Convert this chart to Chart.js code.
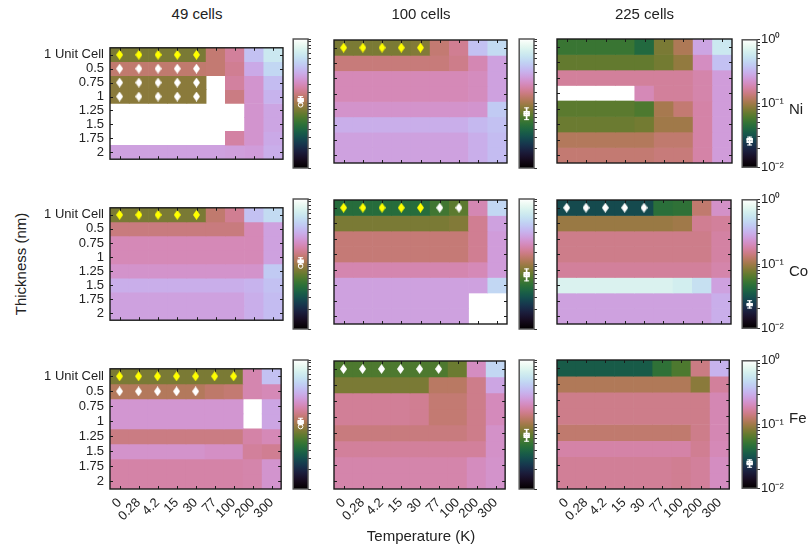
<!DOCTYPE html>
<html><head><meta charset="utf-8">
<script src="https://cdn.jsdelivr.net/npm/chart.js@4.4.0/dist/chart.umd.min.js"></script>
<style>
html,body{margin:0;padding:0;background:#fff;}
#wrap{position:relative;width:809px;height:552px;overflow:hidden;font-family:"Liberation Sans",Arial,Helvetica,sans-serif;color:#222;}
#wrap canvas{position:absolute;}
.lbl{position:absolute;font-size:15px;white-space:nowrap;line-height:15px;}
</style></head><body><div id="wrap"></div>
<script>
// ---------- data ----------
const temperatures = ['0','0.28','4.2','15','30','77','100','200','300'];
const thicknesses = ['1 Unit Cell','0.5','0.75','1','1.25','1.5','1.75','2'];
const metals = ['Ni','Co','Fe'];
const cellCounts = ['49 cells','100 cells','225 cells'];
const colorbarTickValues = [1, 0.1, 0.01];
const colorbarTickLabels = ['10\u2070','10\u207B\u00B9','10\u207B\u00B2'];
const N = null;

const ni49 = [
 [0.0794,0.0794,0.0794,0.0794,0.0794,0.132,0.166,0.363,0.575],
 [0.129,0.129,0.129,0.129,0.129,0.132,0.158,0.288,0.457],
 [0.0871,0.0871,0.0871,0.0871,0.0871,N,0.170,0.229,0.347],
 [0.0871,0.0871,0.0871,0.0871,0.0871,N,0.145,0.229,0.316],
 [N,N,N,N,N,N,N,0.229,0.275],
 [N,N,N,N,N,N,N,0.229,0.275],
 [N,N,N,N,N,N,0.174,0.229,0.288],
 [0.263,0.263,0.263,0.263,0.263,0.263,0.257,0.251,0.302]
];
const ni100 = [
 [0.0794,0.0794,0.0794,0.0794,0.0832,0.132,0.158,0.363,0.479],
 [0.138,0.138,0.138,0.138,0.138,0.138,0.151,0.191,0.263],
 [0.195,0.195,0.195,0.195,0.195,0.195,0.195,0.204,0.263],
 [0.195,0.195,0.195,0.195,0.195,0.195,0.195,0.204,0.263],
 [0.224,0.224,0.224,0.224,0.224,0.224,0.224,0.229,0.398],
 [0.302,0.302,0.302,0.302,0.302,0.302,0.302,0.331,0.363],
 [0.263,0.263,0.263,0.263,0.263,0.263,0.263,0.302,0.347],
 [0.263,0.263,0.263,0.263,0.263,0.263,0.263,0.302,0.347]
];
const ni225 = [
 [0.0525,0.0525,0.0525,0.0525,0.0417,0.0794,0.110,0.275,0.575],
 [0.0692,0.0692,0.0692,0.0692,0.0692,0.0759,0.0912,0.209,0.363],
 [0.166,0.166,0.166,0.166,0.166,0.166,0.166,0.182,0.251],
 [N,N,N,N,0.195,0.166,0.166,0.182,0.251],
 [0.0661,0.0661,0.0661,0.0661,0.0603,0.105,0.132,0.178,0.251],
 [0.0724,0.0724,0.0724,0.0724,0.0759,0.100,0.100,0.178,0.251],
 [0.115,0.115,0.115,0.115,0.115,0.129,0.129,0.178,0.251],
 [0.132,0.132,0.132,0.132,0.132,0.138,0.138,0.178,0.251]
];
const co49 = [
 [0.0794,0.0794,0.0794,0.0794,0.0794,0.129,0.158,0.363,0.479],
 [0.141,0.141,0.141,0.141,0.141,0.141,0.141,0.195,0.263],
 [0.195,0.195,0.195,0.195,0.195,0.195,0.195,0.195,0.263],
 [0.195,0.195,0.195,0.195,0.195,0.195,0.195,0.195,0.263],
 [0.224,0.224,0.224,0.224,0.224,0.224,0.224,0.224,0.398],
 [0.302,0.302,0.302,0.302,0.302,0.302,0.302,0.316,0.363],
 [0.263,0.263,0.263,0.263,0.263,0.263,0.263,0.302,0.347],
 [0.263,0.263,0.263,0.263,0.263,0.263,0.263,0.302,0.347]
];
const co100 = [
 [0.0437,0.0437,0.0437,0.0437,0.0437,0.0550,0.0661,0.191,0.457],
 [0.0794,0.0794,0.0794,0.0794,0.0794,0.0794,0.0832,0.158,0.263],
 [0.135,0.135,0.135,0.135,0.135,0.135,0.135,0.158,0.251],
 [0.135,0.135,0.135,0.135,0.135,0.135,0.135,0.158,0.251],
 [0.186,0.186,0.186,0.186,0.186,0.186,0.186,0.195,0.251],
 [0.263,0.263,0.263,0.263,0.263,0.263,0.263,0.263,0.457],
 [0.263,0.263,0.263,0.263,0.263,0.263,0.263,N,N],
 [0.263,0.263,0.263,0.263,0.263,0.263,0.263,N,N]
];
const co225 = [
 [0.0288,0.0288,0.0288,0.0288,0.0288,0.0457,0.0479,0.129,0.219],
 [0.0955,0.0955,0.0955,0.0955,0.0955,0.0955,0.100,0.158,0.166],
 [0.151,0.151,0.151,0.151,0.151,0.151,0.151,0.151,0.174],
 [0.151,0.151,0.151,0.151,0.151,0.151,0.151,0.151,0.174],
 [0.166,0.166,0.166,0.166,0.166,0.166,0.166,0.166,0.182],
 [0.692,0.692,0.692,0.692,0.692,0.692,0.631,0.513,0.263],
 [0.263,0.263,0.263,0.263,0.263,0.263,0.263,0.263,0.302],
 [0.263,0.263,0.263,0.263,0.263,0.263,0.263,0.263,0.302]
];
const fe49 = [
 [0.0794,0.0794,0.0794,0.0794,0.0794,0.0794,0.0794,0.186,0.363],
 [0.115,0.115,0.115,0.115,0.115,0.126,0.132,0.186,0.195],
 [0.234,0.234,0.234,0.234,0.234,0.234,0.234,N,0.275],
 [0.234,0.234,0.234,0.234,0.234,0.234,0.234,N,0.275],
 [0.145,0.145,0.145,0.145,0.145,0.145,0.145,0.178,0.195],
 [0.224,0.224,0.224,0.224,0.224,0.214,0.214,0.166,0.158],
 [0.178,0.178,0.178,0.178,0.178,0.178,0.178,0.182,0.229],
 [0.178,0.178,0.178,0.178,0.178,0.178,0.178,0.182,0.229]
];
const fe100 = [
 [0.0603,0.0603,0.0603,0.0603,0.0603,0.0603,0.0724,0.209,0.457],
 [0.0794,0.0794,0.0794,0.0794,0.0794,0.120,0.120,0.151,0.275],
 [0.162,0.162,0.162,0.162,0.158,0.132,0.132,0.151,0.200],
 [0.162,0.162,0.162,0.162,0.158,0.132,0.132,0.151,0.200],
 [0.141,0.141,0.141,0.141,0.141,0.141,0.141,0.151,0.219],
 [0.166,0.166,0.166,0.166,0.166,0.166,0.166,0.166,0.219],
 [0.182,0.182,0.182,0.182,0.182,0.182,0.182,0.204,0.224],
 [0.182,0.182,0.182,0.182,0.182,0.182,0.182,0.204,0.224]
];
const fe225 = [
 [0.0347,0.0347,0.0347,0.0347,0.0347,0.0479,0.0603,0.145,0.316],
 [0.112,0.112,0.112,0.112,0.112,0.112,0.112,0.0871,0.166],
 [0.151,0.151,0.151,0.151,0.151,0.151,0.151,0.151,0.191],
 [0.151,0.151,0.151,0.151,0.151,0.151,0.151,0.151,0.191],
 [0.129,0.129,0.129,0.129,0.129,0.129,0.129,0.151,0.191],
 [0.178,0.178,0.178,0.178,0.178,0.178,0.178,0.158,0.195],
 [0.162,0.162,0.162,0.162,0.162,0.162,0.158,0.166,0.209],
 [0.162,0.162,0.162,0.162,0.162,0.162,0.158,0.166,0.209]
];

// marker rows: Y = yellow diamond, W = white diamond, . = none
const markNi49  = ['YYYYY....','WWWWW....','WWWWW....','WWWWW....'];
const markNi100 = ['YYYYY....'];
const markNi225 = [];
const markCo49  = ['YYYYY....'];
const markCo100 = ['YYYYYWW..'];
const markCo225 = ['WWWWW....'];
const markFe49  = ['YYYYYYY..','WWWWW....'];
const markFe100 = ['WWWWWW...'];
const markFe225 = [];

// box plots on colorbars: [min, q1, median, q3, max], outliers
const boxNi49  = [0.102, 0.106, 0.113, 0.120, 0.128]; const outNi49 = [0.0955];
const boxNi100 = [0.0562, 0.0639, 0.0698, 0.0759, 0.0856]; const outNi100 = [];
const boxNi225 = [0.0223, 0.0243, 0.0274, 0.0284, 0.0297]; const outNi225 = [];
const boxCo49  = [0.0990, 0.103, 0.110, 0.117, 0.125]; const outCo49 = [0.0930];
const boxCo100 = [0.0550, 0.0625, 0.0680, 0.0745, 0.0840]; const outCo100 = [];
const boxCo225 = [0.0206, 0.0221, 0.0233, 0.0246, 0.0268]; const outCo225 = [];
const boxFe49  = [0.0990, 0.103, 0.110, 0.117, 0.125]; const outFe49 = [0.0930];
const boxFe100 = [0.0550, 0.0625, 0.0680, 0.0745, 0.0840]; const outFe100 = [];
const boxFe225 = [0.0213, 0.0229, 0.0246, 0.0268, 0.0279]; const outFe225 = [];

const panelValues = [[ni49, ni100, ni225],[co49, co100, co225],[fe49, fe100, fe225]];
const panelMarks = [[markNi49, markNi100, markNi225],[markCo49, markCo100, markCo225],[markFe49, markFe100, markFe225]];
const panelBoxes = [[boxNi49, boxNi100, boxNi225],[boxCo49, boxCo100, boxCo225],[boxFe49, boxFe100, boxFe225]];
const panelOutliers = [[outNi49, outNi100, outNi225],[outCo49, outCo100, outCo225],[outFe49, outFe100, outFe225]];

// ---------- layout ----------
const plotLefts = [110, 334, 557];
const plotWidths = [174, 174, 175];
const plotTops = [39, 199, 360];
const plotHeights = [129, 130, 129];
const cbLefts = [292, 518, 741];
const cbWidth = 16;

Chart.defaults.font.family = '"Liberation Sans", Arial, Helvetica, sans-serif';
Chart.defaults.font.size = 13;
Chart.defaults.color = '#222';

const wrap = document.getElementById('wrap');

function cubehelix(x){
  x = Math.min(1, Math.max(0, x));
  const a = x*(1-x)/2, phi = 2*Math.PI*(0.5/3 - 1.5*x);
  const c = Math.cos(phi), s = Math.sin(phi);
  const r = x + a*(-0.14861*c + 1.78277*s);
  const g = x + a*(-0.29227*c - 0.90649*s);
  const b = x + a*(1.97294*c);
  const f = v => Math.round(255*Math.min(1, Math.max(0, v)));
  return 'rgb(' + f(r) + ',' + f(g) + ',' + f(b) + ')';
}
function valueColor(v){ return cubehelix((Math.log10(v) + 2) / 2); }

function diamond(color){
  const c = document.createElement('canvas'); c.width = 7; c.height = 10;
  const g = c.getContext('2d'); g.fillStyle = color;
  g.beginPath(); g.moveTo(3.5,0); g.lineTo(7,5); g.lineTo(3.5,10); g.lineTo(0,5); g.closePath(); g.fill();
  return c;
}
const diamondYellow = diamond('#ffff00');
const diamondWhite = diamond('#ffffff');

function addCanvas(left, top, w, h){
  const cv = document.createElement('canvas');
  cv.width = w; cv.height = h;
  cv.style.left = left + 'px'; cv.style.top = top + 'px';
  cv.style.width = w + 'px'; cv.style.height = h + 'px';
  wrap.appendChild(cv);
  return cv;
}

const framePlugin = {
  id: 'frame',
  afterDatasetsDraw(chart){
    const {ctx, chartArea: a} = chart;
    const xs = chart.scales.x, ys = chart.scales.y;
    ctx.save();
    ctx.strokeStyle = '#1a1a1a'; ctx.lineWidth = 1;
    ctx.beginPath();
    for (let i = 0; i < temperatures.length; i++) {
      const px = Math.round(xs.getPixelForTick(i)) + 0.5;
      ctx.moveTo(px, a.bottom); ctx.lineTo(px, a.bottom - 3);
      ctx.moveTo(px, a.top); ctx.lineTo(px, a.top + 3);
    }
    for (let i = 0; i < thicknesses.length; i++) {
      const py = Math.round(ys.getPixelForTick(i)) + 0.5;
      ctx.moveTo(a.left, py); ctx.lineTo(a.left + 3, py);
      ctx.moveTo(a.right, py); ctx.lineTo(a.right - 3, py);
    }
    ctx.stroke();
    ctx.lineWidth = 1.4;
    ctx.strokeRect(a.left, a.top, a.width, a.height);
    ctx.restore();
  }
};

function makePanel(r, c){
  const L = plotLefts[c], T = plotTops[r], W = plotWidths[c], H = plotHeights[r];
  const bottom = r === 2;
  const padL = 80, padT = 5, padR = 5, padB = bottom ? 62 : 5;
  const cv = addCanvas(L - padL, T - padT, W + padL + padR, H + padT + padB);
  const vals = panelValues[r][c];
  const datasets = vals.map((row, ri) => ({
    type: 'bar',
    data: row.map(v => v == null ? null : [ri, ri + 1]),
    backgroundColor: row.map(v => v == null ? 'rgba(0,0,0,0)' : valueColor(v)),
    xAxisID: 'x', yAxisID: 'yv', grouped: false,
    barPercentage: 1, categoryPercentage: 1, borderWidth: 0, order: 2
  }));
  const yellow = [], white = [];
  panelMarks[r][c].forEach((s, ri) => {
    [...s].forEach((ch, ci) => {
      if (ch === 'Y') yellow.push({x: temperatures[ci], y: ri + 0.5});
      if (ch === 'W') white.push({x: temperatures[ci], y: ri + 0.5});
    });
  });
  datasets.push({type: 'scatter', data: yellow, xAxisID: 'x', yAxisID: 'yv', pointStyle: diamondYellow, pointRadius: 5, order: 0});
  datasets.push({type: 'scatter', data: white, xAxisID: 'x', yAxisID: 'yv', pointStyle: diamondWhite, pointRadius: 5, order: 0});
  new Chart(cv, {
    type: 'bar',
    data: { labels: temperatures, datasets },
    options: {
      responsive: false, animation: false, events: [],
      layout: { padding: { left: 0, top: padT, right: padR, bottom: bottom ? 0 : padB } },
      plugins: { legend: { display: false }, tooltip: { enabled: false } },
      scales: {
        x: {
          type: 'category', display: bottom, offset: true,
          grid: { display: false, drawTicks: false }, border: { display: false },
          ticks: { minRotation: 45, maxRotation: 45, padding: 6, autoSkip: false, font: { size: 13 } },
          afterFit: s => { s.height = padB; }
        },
        y: {
          type: 'category', labels: thicknesses, offset: true, position: 'left',
          grid: { display: false, drawTicks: false }, border: { display: false },
          ticks: { display: c === 0, padding: 6, autoSkip: false, font: { size: 13 } },
          afterFit: s => { s.width = padL; }
        },
        yv: { type: 'linear', display: false, min: 0, max: 8, reverse: true }
      }
    },
    plugins: [framePlugin]
  });
}

const gradientPlugin = {
  id: 'cbgrad',
  beforeDatasetsDraw(chart){
    const {ctx, chartArea: a} = chart;
    const g = ctx.createLinearGradient(0, a.bottom, 0, a.top);
    for (let i = 0; i <= 64; i++) g.addColorStop(i / 64, cubehelix(i / 64));
    ctx.save(); ctx.fillStyle = g; ctx.fillRect(a.left, a.top, a.width, a.height); ctx.restore();
  },
  afterDraw(chart){
    const {ctx, chartArea: a} = chart;
    ctx.save(); ctx.strokeStyle = '#555'; ctx.lineWidth = 1.5;
    ctx.strokeRect(a.left, a.top, a.width, a.height); ctx.restore();
  }
};

function makeColorbar(r, c){
  const L = cbLefts[c], T = plotTops[r], H = plotHeights[r];
  const showLabels = c === 2;
  const padL = 4, padT = 8, padR = showLabels ? 44 : 8, padB = 8;
  const cv = addCanvas(L - padL, T - padT, cbWidth + padL + padR, H + padT + padB);
  const [mn, q1, md, q3, mx] = panelBoxes[r][c];
  const outs = panelOutliers[r][c];
  new Chart(cv, {
    type: 'bar',
    data: {
      labels: ['b'],
      datasets: [
        {type: 'scatter', data: [{x: 'b', y: md}], pointStyle: 'line', pointRadius: 3, borderColor: '#fff', borderWidth: 1.2, order: 0},
        {type: 'scatter', data: [{x: 'b', y: mn}, {x: 'b', y: mx}], pointStyle: 'line', pointRadius: 2.5, borderColor: '#fff', borderWidth: 1, order: 1},
        {type: 'scatter', data: outs.map(v => ({x: 'b', y: v})), pointStyle: 'circle', pointRadius: 2.3, borderColor: '#fff', backgroundColor: 'rgba(0,0,0,0)', borderWidth: 1, order: 1},
        {type: 'bar', data: [[q1, q3]], barThickness: 6, backgroundColor: 'rgba(255,255,255,0.45)', borderColor: '#fff', borderWidth: 1, borderSkipped: false, grouped: false, order: 2},
        {type: 'bar', data: [[mn, mx]], barThickness: 1, backgroundColor: '#fff', borderWidth: 0, grouped: false, order: 3}
      ]
    },
    options: {
      responsive: false, animation: false, events: [],
      layout: { padding: { left: padL, top: padT, right: 0, bottom: padB } },
      plugins: { legend: { display: false }, tooltip: { enabled: false } },
      scales: {
        x: { type: 'category', display: false, offset: true },
        y: {
          type: 'logarithmic', position: 'right', min: 0.01, max: 1,
          grid: { display: true, drawOnChartArea: false, drawTicks: true, tickLength: 3, color: '#333' },
          border: { display: false },
          ticks: {
            display: showLabels, autoSkip: false, padding: 1, font: { size: 13 },
            callback: v => {
              const k = colorbarTickValues.findIndex(t => Math.abs(t - v) < 1e-9);
              return k >= 0 ? colorbarTickLabels[k] : '';
            }
          },
          afterFit: s => { s.width = padR; }
        }
      }
    },
    plugins: [gradientPlugin]
  });
}

for (let r = 0; r < 3; r++) for (let c = 0; c < 3; c++) { makePanel(r, c); makeColorbar(r, c); }

function addLabel(text, left, top, extra){
  const d = document.createElement('div'); d.className = 'lbl'; d.textContent = text;
  d.style.left = left + 'px'; d.style.top = top + 'px';
  if (extra) Object.assign(d.style, extra);
  wrap.appendChild(d); return d;
}
cellCounts.forEach((t, c) => {
  addLabel(t, plotLefts[c] + plotWidths[c] / 2, 6, { transform: 'translateX(-50%)' });
});
addLabel('Temperature (K)', plotLefts[1] + plotWidths[1] / 2, 528, { transform: 'translateX(-50%)' });
addLabel('Thickness (nm)', 20, 264, { transform: 'translate(-50%,-50%) rotate(-90deg)' });
const metalLabelY = [109, 271, 418];
metals.forEach((m, r) => addLabel(m, 789, metalLabelY[r] - 8));
</script></body></html>
